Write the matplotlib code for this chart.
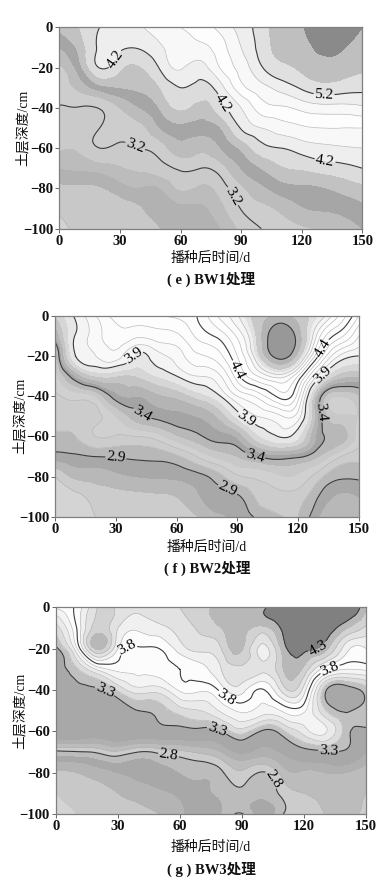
import numpy as np
import matplotlib
matplotlib.use("Agg")
import matplotlib.pyplot as plt
import matplotlib.tri as mtri

plt.rcParams['font.family'] = ['Liberation Serif', 'Noto Sans CJK SC', 'DejaVu Sans']
plt.rcParams['axes.unicode_minus'] = True

days = [0, 10, 20, 30, 40, 50, 60, 70, 80, 90, 100, 110, 120, 130, 140, 150]
depths = [0, -10, -20, -30, -40, -50, -60, -70, -80, -90, -100]
x_ticks = [0, 30, 60, 90, 120, 150]
y_ticks = [0, -20, -40, -60, -80, -100]

# one row per day, values from 0 cm down to -100 cm
bw1 = [
    [3.85, 3.60, 3.36, 3.27, 3.19, 3.11, 3.02, 2.80, 2.55, 2.42, 2.36],
    [4.00, 3.87, 3.72, 3.46, 3.19, 3.12, 3.04, 2.83, 2.56, 2.47, 2.43],
    [4.20, 4.24, 4.21, 3.70, 3.21, 3.20, 3.20, 2.88, 2.58, 2.50, 2.45],
    [4.30, 4.24, 4.04, 3.80, 3.40, 3.28, 3.15, 2.97, 2.70, 2.50, 2.46],
    [4.38, 4.22, 3.98, 3.84, 3.60, 3.34, 3.20, 3.03, 2.78, 2.58, 2.48],
    [4.50, 4.37, 4.23, 4.00, 3.82, 3.60, 3.30, 3.12, 2.80, 2.70, 2.60],
    [4.60, 4.50, 4.42, 4.20, 4.03, 3.74, 3.52, 3.23, 3.02, 2.74, 2.66],
    [4.68, 4.55, 4.32, 4.14, 3.91, 3.69, 3.45, 3.20, 2.95, 2.77, 2.72],
    [4.88, 4.72, 4.62, 4.33, 4.12, 3.80, 3.60, 3.31, 3.09, 2.93, 2.80],
    [5.08, 5.00, 4.88, 4.73, 4.40, 4.22, 3.84, 3.60, 3.36, 3.21, 3.04],
    [5.30, 5.28, 5.18, 4.93, 4.70, 4.40, 4.12, 3.80, 3.55, 3.34, 3.20],
    [5.50, 5.47, 5.35, 5.08, 4.77, 4.50, 4.20, 3.97, 3.70, 3.45, 3.28],
    [5.58, 5.52, 5.43, 5.23, 4.86, 4.57, 4.29, 4.02, 3.75, 3.58, 3.36],
    [5.75, 5.66, 5.50, 5.33, 4.92, 4.60, 4.35, 4.08, 3.78, 3.62, 3.42],
    [5.72, 5.62, 5.48, 5.30, 4.92, 4.60, 4.38, 4.13, 3.86, 3.66, 3.48],
    [5.60, 5.52, 5.43, 5.26, 4.96, 4.60, 4.40, 4.20, 3.94, 3.75, 3.60],
]
bw2 = [
    [3.70, 3.50, 3.24, 3.14, 3.08, 3.03, 2.98, 2.85, 2.60, 2.55, 2.52],
    [3.92, 3.91, 3.90, 3.50, 3.14, 3.06, 3.00, 2.88, 2.72, 2.57, 2.54],
    [4.10, 4.05, 4.00, 3.70, 3.21, 3.07, 3.10, 2.90, 2.74, 2.64, 2.60],
    [4.25, 4.18, 4.05, 3.70, 3.46, 3.20, 3.09, 2.91, 2.77, 2.66, 2.62],
    [4.30, 4.12, 3.88, 3.70, 3.50, 3.35, 3.10, 2.92, 2.80, 2.67, 2.63],
    [4.30, 4.15, 3.96, 3.80, 3.57, 3.43, 3.15, 2.93, 2.81, 2.68, 2.64],
    [4.32, 4.18, 4.04, 3.90, 3.62, 3.47, 3.28, 2.98, 2.82, 2.70, 2.65],
    [4.40, 4.32, 4.18, 4.00, 3.73, 3.50, 3.37, 3.10, 2.86, 2.78, 2.69],
    [4.60, 4.42, 4.25, 4.06, 3.86, 3.60, 3.45, 3.22, 2.95, 2.85, 2.78],
    [4.78, 4.62, 4.50, 4.36, 4.10, 3.83, 3.52, 3.30, 3.08, 2.88, 2.82],
    [5.10, 5.05, 4.93, 4.60, 4.23, 4.00, 3.77, 3.40, 3.12, 3.02, 2.92],
    [5.20, 5.60, 5.50, 4.75, 4.42, 4.07, 3.90, 3.46, 3.18, 3.06, 2.98],
    [5.10, 5.30, 5.10, 4.50, 4.25, 4.05, 3.82, 3.42, 3.18, 3.05, 3.00],
    [4.90, 4.65, 4.40, 3.97, 3.50, 3.48, 3.46, 3.30, 3.04, 2.90, 2.80],
    [4.60, 4.35, 4.00, 3.65, 3.20, 3.22, 3.36, 3.12, 2.92, 2.78, 2.70],
    [4.30, 4.10, 3.90, 3.60, 3.28, 3.20, 3.15, 3.04, 2.92, 2.80, 2.75],
]
bw3 = [
    [3.72, 3.45, 3.27, 3.26, 3.25, 3.23, 3.21, 2.77, 2.48, 2.40, 2.36],
    [3.83, 3.80, 3.68, 3.38, 3.27, 3.26, 3.22, 2.79, 2.50, 2.43, 2.40],
    [4.10, 4.15, 4.22, 3.62, 3.28, 3.18, 3.18, 2.82, 2.55, 2.45, 2.42],
    [4.08, 4.00, 3.90, 3.73, 3.42, 3.22, 3.22, 2.88, 2.60, 2.50, 2.44],
    [4.02, 3.92, 3.78, 3.72, 3.56, 3.30, 3.22, 2.80, 2.63, 2.54, 2.47],
    [4.05, 3.97, 3.80, 3.74, 3.55, 3.34, 3.24, 2.83, 2.66, 2.58, 2.50],
    [4.10, 4.04, 3.95, 3.80, 3.72, 3.45, 3.24, 2.87, 2.70, 2.62, 2.58],
    [4.17, 4.12, 4.03, 3.86, 3.72, 3.50, 3.25, 2.92, 2.72, 2.68, 2.66],
    [4.23, 4.20, 4.10, 4.00, 3.84, 3.62, 3.30, 3.00, 2.78, 2.72, 2.70],
    [4.27, 4.25, 4.21, 4.08, 3.94, 3.72, 3.45, 3.12, 2.88, 2.77, 2.81],
    [4.28, 4.17, 3.97, 4.02, 3.79, 3.65, 3.28, 3.05, 2.79, 2.72, 2.62],
    [4.45, 4.33, 4.25, 4.20, 4.05, 3.72, 3.38, 3.12, 2.95, 2.84, 2.80],
    [4.55, 4.45, 4.33, 4.17, 3.95, 3.72, 3.55, 3.24, 2.98, 2.90, 2.87],
    [4.60, 4.40, 4.24, 3.84, 3.34, 3.42, 3.62, 3.28, 3.00, 2.92, 2.90],
    [4.50, 4.22, 3.95, 3.70, 3.22, 3.29, 3.36, 3.28, 3.00, 2.93, 2.92],
    [4.20, 4.08, 3.90, 3.72, 3.35, 3.34, 3.27, 3.10, 2.96, 2.90, 2.88],
]

bw1_levels = [0, 2.4, 2.6, 2.8, 3.0, 3.2, 3.4, 3.6, 3.8, 4.0, 4.2, 4.4, 4.6, 4.8, 5.0, 5.2, 5.4, 5.6, 9]
bw1_colors = ['#d2d2d2', '#c8c8c8', '#b2b2b2', '#bcbcbc', '#cacaca', '#cdcdcd', '#bcbcbc', '#a6a6a6', '#c2c2c2',
              '#dcdcdc', '#eeeeee', '#f8f8f8', '#fdfdfd', '#f8f8f8', '#eeeeee', '#e0e0e0', '#bfbfbf', '#8a8a8a']
bw2_levels = [0, 2.6, 2.7, 2.8, 2.9, 3.0, 3.1, 3.2, 3.3, 3.4, 3.5, 3.6, 3.7, 3.8, 3.9, 4.0, 4.1, 4.2, 4.3, 4.4,
              4.5, 4.6, 4.7, 4.8, 4.9, 5.0, 5.2, 5.4, 9]
bw2_colors = ['#d4d4d4', '#cccccc', '#b8b8b8', '#a8a8a8', '#b8b8b8', '#cccccc', '#d0d0d0', '#c8c8c8', '#b8b8b8',
              '#a4a4a4', '#b4b4b4', '#c4c4c4', '#d6d6d6', '#e6e6e6', '#f4f4f4', '#f9f9f9', '#fcfcfc', '#fdfdfd',
              '#fdfdfd', '#fbfbfb', '#fefefe', '#fbfbfb', '#f6f6f6', '#eeeeee', '#e0e0e0', '#c8c8c8', '#b4b4b4', '#989898']
bw3_levels = [0, 2.4, 2.5, 2.6, 2.7, 2.8, 2.9, 3.0, 3.1, 3.2, 3.3, 3.4, 3.5, 3.6, 3.7, 3.8, 3.9, 4.0, 4.1, 4.2, 4.3, 9]
bw3_colors = ['#d4d4d4', '#c8c8c8', '#b4b4b4', '#a8a8a8', '#bcbcbc', '#cccccc', '#bcbcbc', '#b0b0b0', '#a8a8a8',
              '#a8a8a8', '#c0c0c0', '#dcdcdc', '#eaeaea', '#f4f4f4', '#fcfcfc', '#fcfcfc', '#f0f0f0', '#e2e2e2',
              '#d2d2d2', '#b8b8b8', '#808080']

bw1_main = [3.2, 4.2, 5.2]
bw2_main = [2.9, 3.4, 3.9, 4.4, 5.4]
bw3_main = [2.8, 3.3, 3.8, 4.3]
bw1_thin = [2.4, 4.4, 4.6, 4.8, 5.0]
bw2_thin = [2.6, 3.0, 3.1, 4.0, 4.1, 4.2, 4.3, 4.5, 4.6, 4.7, 4.8]
bw3_thin = [2.9, 3.4, 3.5, 3.6, 3.7, 3.9, 4.0, 4.1]

bw1_spots = [(26, -15), (80, -38.5), (131, -35), (131.6, -66), (37.7, -58.6), (87.6, -83)]
bw2_spots = [(39, -20), (91, -26.5), (134, -17), (132.5, -30), (94.6, -51), (42.7, -49), (98.7, -69.5),
             (132.5, -47.7), (30, -70), (87, -82.5)]
bw3_spots = [(35.5, -22), (82, -44.5), (132.6, -30), (23.4, -41), (78, -59), (132, -69), (54.4, -72),
             (105, -83), (127, -20)]

W, H = 391, 891
fig = plt.figure(figsize=(W / 100, H / 100), dpi=100)


def panel(box, grid, levels, colors, main, thin, spots, caption, cap_y, xlab_y, ylab_x):
    left, top, right, bottom = box
    ax = fig.add_axes([left / W, 1 - bottom / H, (right - left) / W, (bottom - top) / H])
    xx, yy = np.meshgrid(days, depths)
    z = np.array(grid).T
    tri = mtri.Triangulation(xx.ravel(), yy.ravel())
    tri2, z2 = mtri.UniformTriRefiner(tri).refine_field(z.ravel(), subdiv=3)
    ax.tricontourf(tri2, z2, levels=levels, colors=colors)
    ax.tricontour(tri2, z2, levels=thin, colors='#b4b4b4', linewidths=0.45)
    cs = ax.tricontour(tri2, z2, levels=main, colors='#3c3c3c', linewidths=0.8)
    ax.clabel(cs, manual=spots, fmt='%.1f', fontsize=11, inline=True, inline_spacing=1, colors='black')
    ax.set_xlim(0, 150)
    ax.set_ylim(-100, 0)
    ax.set_xticks(x_ticks)
    ax.set_yticks(y_ticks)
    ax.tick_params(length=3, width=0.7, color='#666666', labelsize=10.5, pad=1.5, labelcolor='#111111')
    for lab in ax.get_xticklabels() + ax.get_yticklabels():
        lab.set_fontweight('bold')
    for s in ax.spines.values():
        s.set_color('#808080')
        s.set_linewidth(0.9)
    ax.set_xlabel('播种后时间/d', fontsize=10, color='#111111', va='center')
    ax.set_ylabel('土层深度/cm', fontsize=10, color='#111111', va='center')
    ax.xaxis.set_label_coords(0.5, -(xlab_y - bottom) / (bottom - top))
    ax.yaxis.set_label_coords((ylab_x - left) / (right - left), 0.5)
    fig.text((left + right) / 2 / W, 1 - cap_y / H, caption, ha='center', va='center',
             fontsize=10.5, fontweight='bold', color='#111111')


panel((59.3, 27.3, 362.3, 228.7), bw1, bw1_levels, bw1_colors, bw1_main, bw1_thin, bw1_spots,
      '( e ) BW1处理', 279, 258, 23)
panel((55.3, 315.7, 358.7, 517), bw2, bw2_levels, bw2_colors, bw2_main, bw2_thin, bw2_spots,
      '( f ) BW2处理', 568, 547, 20)
panel((56, 607.3, 366, 814), bw3, bw3_levels, bw3_colors, bw3_main, bw3_thin, bw3_spots,
      '( g ) BW3处理', 869, 847, 20)

fig.savefig('out.png', dpi=100)
